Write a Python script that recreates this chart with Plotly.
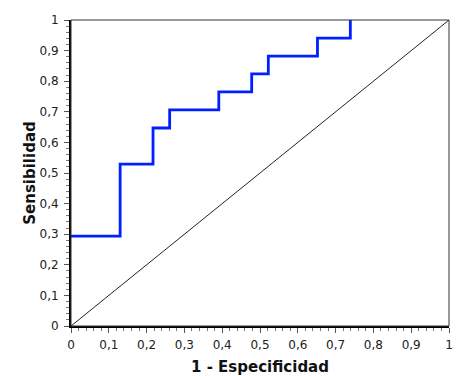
import plotly.graph_objects as go

# ROC step points (1 - especificidad, sensibilidad)
fpr = [0.0, 0.130, 0.217, 0.261, 0.391, 0.478, 0.522, 0.652, 0.739]
tpr = [0.294, 0.529, 0.647, 0.706, 0.765, 0.824, 0.882, 0.941, 1.0]
ref_x = [0, 1]
ref_y = [0, 1]
tick_vals = [0, 0.1, 0.2, 0.3, 0.4, 0.5, 0.6, 0.7, 0.8, 0.9, 1]

fig = go.Figure()
fig.add_trace(go.Scatter(x=ref_x, y=ref_y, mode="lines",
                         line=dict(color="#222222", width=1), hoverinfo="skip"))
fig.add_trace(go.Scatter(x=fpr, y=tpr, mode="lines", line_shape="hv",
                         line=dict(color="#0020ff", width=2.8)))

axis_common = dict(
    range=[0, 1], tickvals=tick_vals, showgrid=False, zeroline=False,
    showline=True, linecolor="black", linewidth=2, automargin=False,
    ticks="outside", ticklen=5, tickcolor="#555555", tickwidth=1,
    ticklabeloverflow="allow",
    minor=dict(dtick=0.02, ticks="outside", ticklen=3, tickcolor="#777777", tickwidth=1),
    tickfont=dict(family="DejaVu Sans, sans-serif", size=12, color="#222222"),
)
title_font = dict(family="DejaVu Sans, sans-serif", size=15, color="#111111")

fig.update_layout(
    width=458, height=376,
    margin=dict(l=71, r=9, t=20, b=50, autoexpand=False),
    paper_bgcolor="white", plot_bgcolor="white",
    showlegend=False,
    separators=",.",
    xaxis=dict(**axis_common, ticklabelstandoff=2,
               title=dict(text="<b>1 - Especificidad</b>", standoff=11, font=title_font)),
    yaxis=dict(**axis_common, ticklabelstandoff=3,
               title=dict(text="<b>Sensibilidad</b>", standoff=0, font=title_font)),
    shapes=[dict(type="rect", xref="paper", yref="paper", x0=0, y0=0, x1=1, y1=1,
                 line=dict(color="#333333", width=1), layer="above")],
)

fig.write_html("out.html", config={"displayModeBar": False},
               post_script="document.body.style.margin='0';")
